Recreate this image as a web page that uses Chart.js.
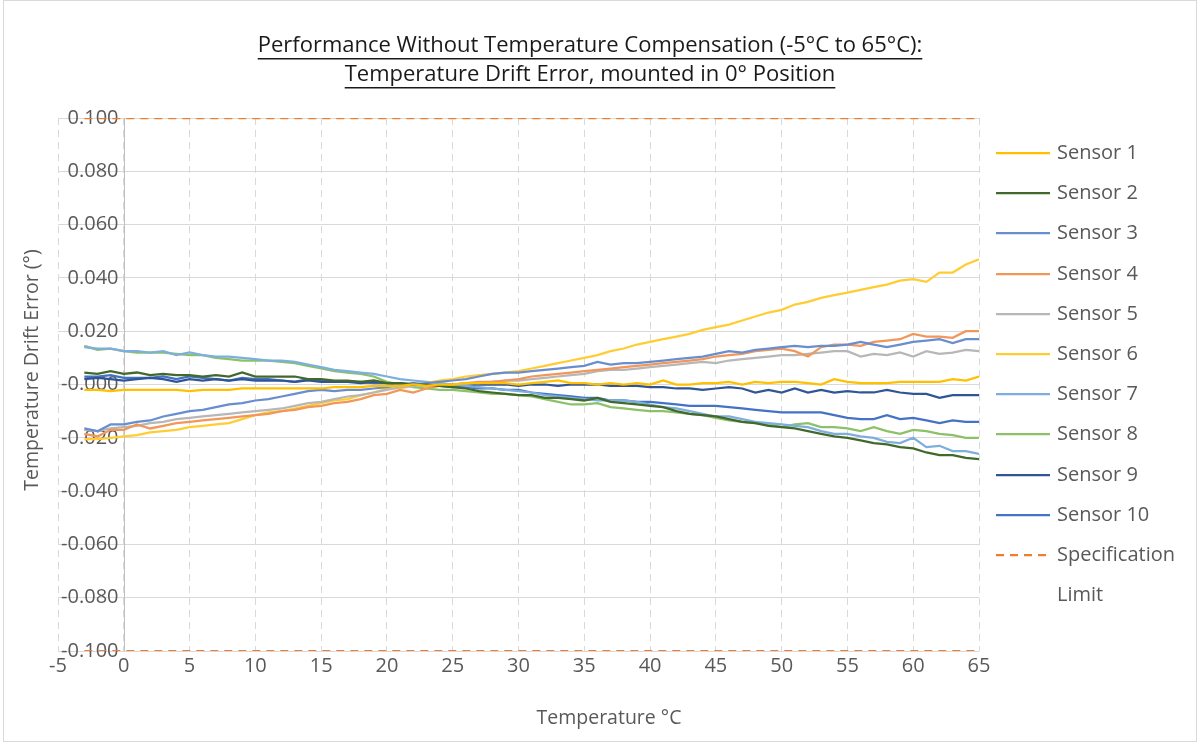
<!DOCTYPE html>
<html>
<head>
<meta charset="utf-8">
<script src="https://cdn.jsdelivr.net/npm/chart.js@4.4.1/dist/chart.umd.min.js"></script>
<style>
  html, body { margin: 0; padding: 0; background: #ffffff; }
  #wrap { width: 1200px; height: 742px; position: relative; }
</style>
</head>
<body>
<div id="wrap"><canvas id="chartArea" width="1200" height="742"></canvas></div>
<script>
'use strict'

// temperature steps (°C)
const temps = [-3, -2, -1, 0, 1, 2, 3, 4, 5, 6, 7, 8,
    9, 10, 11, 12, 13, 14, 15, 16, 17, 18, 19, 20,
    21, 22, 23, 24, 25, 26, 27, 28, 29, 30, 31, 32,
    33, 34, 35, 36, 37, 38, 39, 40, 41, 42, 43, 44,
    45, 46, 47, 48, 49, 50, 51, 52, 53, 54, 55, 56,
    57, 58, 59, 60, 61, 62, 63, 64, 65];

// drift error per sensor, in thousandths of a degree
const sensor1 = [-2, -2, -2.5, -2, -2, -2, -2, -2, -2.5, -2, -2, -2,
    -1.5, -1.5, -1.5, -1.5, -1.5, -1.5, -1.5, -1, -1, -1, -0.5, -0.5,
    -0.5, 0, -0.5, 0, 0, 0.5, 0.5, 0.5, 0.5, 0, 0.5, 1,
    1.5, 0.5, 0.5, 0, 0.5, 0, 0.5, 0, 1.5, 0, 0, 0.5,
    0.5, 1, 0, 1, 0.5, 1, 1, 0.5, 0, 2, 1, 0.5,
    0.5, 0.5, 1, 1, 1, 1, 2, 1.5, 3];
const sensor2 = [4.5, 4, 5, 4, 4.5, 3.5, 4, 3.5, 3.5, 3, 3.5, 3,
    4.5, 3, 3, 3, 3, 2, 2, 1.5, 1.5, 1, 1.5, 0.5,
    0.5, 0, 0, -0.5, -1, -1.5, -2.5, -3, -3.5, -4, -4, -5,
    -5, -5.5, -6, -5, -6.5, -7, -7.5, -8, -8.5, -10, -11, -11.5,
    -12, -13, -14, -14.5, -15.5, -16, -16.5, -17.5, -18.5, -19.5, -20, -21,
    -22, -22.5, -23.5, -24, -25.5, -26.5, -26.5, -27.5, -28];
const sensor3 = [-16.5, -17.5, -15, -15, -14, -13.5, -12, -11, -10, -9.5, -8.5, -7.5,
    -7, -6, -5.5, -4.5, -3.5, -2.5, -2, -2.5, -2, -2, -1.5, -1,
    0, 0, 0.5, 1, 1.5, 2, 3, 4, 4.5, 4.5, 5, 5.5,
    6, 6.5, 7, 8.5, 7.5, 8, 8, 8.5, 9, 9.5, 10, 10.5,
    11.5, 12.5, 12, 13, 13.5, 14, 14.5, 14, 14.5, 14.5, 15, 16,
    15, 14, 15, 16, 16.5, 17, 15.5, 17, 17];
const sensor4 = [-18.5, -19.5, -17, -17, -15, -16.5, -15.5, -14.5, -14, -13.5, -13, -12.5,
    -12, -11.5, -11, -10, -9.5, -8.5, -8, -7, -6.5, -5.5, -4, -3.5,
    -2, -3, -1.5, -0.5, 0, 0.5, 1, 1, 1.5, 2, 3, 3.5,
    4, 4.5, 5, 5.5, 6, 6.5, 7, 7.5, 8, 8.5, 9, 9.5,
    10.5, 11, 11.5, 12.5, 13, 13.5, 12.5, 10.5, 14, 15, 15, 14.5,
    16, 16.5, 17, 19, 18, 18, 17.5, 20, 20];
const sensor5 = [-17, -17.5, -16.5, -16, -15.5, -14.5, -14, -13, -12.5, -12, -11.5, -11,
    -10.5, -10, -9.5, -9, -8, -7, -6.5, -5.5, -4.5, -4, -3, -2,
    -1, -0.5, -0.5, -0.5, 0, 0.5, 0.5, 1, 1.5, 1.5, 2, 2.5,
    3, 3.5, 4, 5, 5.5, 5.5, 6, 6.5, 7, 7.5, 8, 8.5,
    8, 9, 9.5, 10, 10.5, 11, 11, 11.5, 12, 12.5, 12.5, 10.5,
    11.5, 11, 12, 10.5, 12.5, 11.5, 12, 13, 12.5];
const sensor6 = [-20.5, -20.5, -20, -19.5, -19, -18, -17.5, -17, -16, -15.5, -15, -14.5,
    -13, -11.5, -10.5, -10, -9, -8, -7, -6, -5.5, -4, -3, -1.5,
    -1.5, -0.5, 0.5, 1.5, 2, 3, 3.5, 4, 4.5, 5, 6, 7,
    8, 9, 10, 11, 12.5, 13.5, 15, 16, 17, 18, 19, 20.5,
    21.5, 22.5, 24, 25.5, 27, 28, 30, 31, 32.5, 33.5, 34.5, 35.5,
    36.5, 37.5, 39, 39.5, 38.5, 42, 42, 45, 47];
const sensor7 = [14, 13.5, 13.5, 12.5, 12.5, 12, 12.5, 11, 12, 11, 10.5, 10.5,
    10, 9.5, 9, 9, 8.5, 7.5, 6.5, 5.5, 5, 4.5, 4, 3,
    2, 1.5, 1, 0.5, 0, -0.5, -1, -1.5, -2, -2.5, -3, -4,
    -4.5, -5, -5.5, -6, -6, -6, -6.5, -7.5, -8.5, -9, -10, -11,
    -12, -12, -13, -14, -14.5, -15, -15.5, -16, -17.5, -18.5, -18.5, -19.5,
    -20, -21.5, -22, -20, -23.5, -23, -25, -25, -26];
const sensor8 = [14.5, 13, 13.5, 12.5, 12, 12, 12, 11.5, 11, 11, 10, 9.5,
    9, 9, 9, 8.5, 8, 7, 6, 5, 4.5, 4, 3, 1,
    0, -1, -1.5, -2, -2, -2.5, -3, -3.5, -3.5, -4, -4.5, -5.5,
    -6.5, -7.5, -7.5, -7, -8.5, -9, -9.5, -10, -10, -10.5, -11, -11.5,
    -12.5, -13.5, -14, -14.5, -15, -16, -15, -14.5, -16, -16, -16.5, -17.5,
    -16, -17.5, -18.5, -17, -17.5, -18.5, -19, -20, -20];
const sensor9 = [2, 2.5, 2, 1.5, 2, 2.5, 2, 1, 2, 1.5, 2, 1.5,
    2, 1.5, 1.5, 1.5, 1, 1.5, 1, 1, 1, 0.5, 1, 0.5,
    0.5, 0, 0, -0.5, 0, -0.5, 0, 0, 0, -0.5, 0, 0,
    -0.5, 0, 0, 0, -0.5, -0.5, -0.5, -1, -1, -1.5, -1.5, -2,
    -1.5, -1, -1.5, -3, -2, -3, -1.5, -3, -2, -3, -2.5, -3,
    -3, -2, -3, -3.5, -3.5, -5, -4, -4, -4];
const sensor10 = [3, 3, 3.5, 2.5, 2.5, 2.5, 3, 2, 3, 2.5, 2, 1.5,
    2.5, 2, 2, 1.5, 1, 2, 1.5, 1, 1, 1, 0.5, 0.5,
    0, 0.5, 0, -0.5, -1, -1, -1.5, -1.5, -2, -2, -3, -3.5,
    -4, -4.5, -5, -5, -6, -6, -6.5, -6.5, -7, -7.5, -8, -8,
    -8, -8.5, -9, -9.5, -10, -10.5, -10.5, -10.5, -10.5, -11.5, -12.5, -13,
    -13, -11.5, -13, -12.5, -13.5, -14.5, -13.5, -14, -14];

const sensorNames = ['Sensor 1', 'Sensor 2', 'Sensor 3', 'Sensor 4', 'Sensor 5',
    'Sensor 6', 'Sensor 7', 'Sensor 8', 'Sensor 9', 'Sensor 10'];
const sensorColors = ['#FFC000', '#43682B', '#698ED0', '#F1975A', '#B7B7B7',
    '#FFCD33', '#7CAFDD', '#8CC168', '#2F5597', '#4472C4'];

// specification limit (±0.1°)
const specTemps = [-3, 65];
const specUpper = [0.1, 0.1];
const specLower = [-0.1, -0.1];

const xTicks = [-5, 0, 5, 10, 15, 20, 25, 30, 35, 40, 45, 50, 55, 60, 65];
const yTicks = [0.1, 0.08, 0.06, 0.04, 0.02, 0, -0.02, -0.04, -0.06, -0.08, -0.1];
const yTickLabels = ['0.100', '0.080', '0.060', '0.040', '0.020', '-0.000',
    '-0.020', '-0.040', '-0.060', '-0.080', '-0.100'];

const titleLines = ['Performance Without Temperature Compensation (-5°C to 65°C):',
    'Temperature Drift Error, mounted in 0° Position'];
const xTitle = 'Temperature °C';
const yTitle = 'Temperature Drift Error (°)';

const FONT = '"Open Sans", "Noto Sans", sans-serif';
const sensorSeries = [sensor1, sensor2, sensor3, sensor4, sensor5,
    sensor6, sensor7, sensor8, sensor9, sensor10];

let datasets = [];
for (let k = 0; k < sensorSeries.length; k++) {
    datasets.push({
        label: sensorNames[k],
        data: temps.map((t, i) => ({x: t, y: sensorSeries[k][i] / 1000})),
        borderColor: sensorColors[k],
        borderWidth: 2.25,
        pointRadius: 0,
        tension: 0
    });
}
datasets.push({
    label: 'Specification Limit',
    data: specTemps.map((t, i) => ({x: t, y: specUpper[i]})),
    borderColor: '#ED7D31', borderWidth: 2.25, borderDash: [8, 6], pointRadius: 0
});
datasets.push({
    label: 'Specification Limit (lower)',
    data: specTemps.map((t, i) => ({x: t, y: specLower[i]})),
    borderColor: '#ED7D31', borderWidth: 2.25, borderDash: [8, 6], pointRadius: 0
});

const decor = {
    id: 'decor',
    beforeDatasetsDraw(chart) {
        const ctx = chart.ctx;
        const a = chart.chartArea;
        const x = chart.scales.x;
        const y = chart.scales.y;
        ctx.save();
        // vertical axis line at 0°C
        let px = Math.round(x.getPixelForValue(0)) + 0.5;
        ctx.strokeStyle = '#bfbfbf';
        ctx.lineWidth = 1;
        ctx.beginPath();
        ctx.moveTo(px, a.top);
        ctx.lineTo(px, a.bottom);
        ctx.stroke();
        // y tick labels, next to the axis at 0°C
        ctx.fillStyle = '#595959';
        ctx.font = '20px ' + FONT;
        ctx.textAlign = 'right';
        ctx.textBaseline = 'middle';
        for (let i = 0; i < yTicks.length; i++) {
            ctx.fillText(yTickLabels[i], px - 6, y.getPixelForValue(yTicks[i]));
        }
        ctx.restore();
    },
    afterDraw(chart) {
        const ctx = chart.ctx;
        const a = chart.chartArea;
        const x = chart.scales.x;
        ctx.save();
        // outer frame
        ctx.strokeStyle = '#d9d9d9';
        ctx.lineWidth = 1;
        ctx.strokeRect(3.5, 0.5, 1193, 741);

        // x tick labels
        ctx.fillStyle = '#595959';
        ctx.font = '20px ' + FONT;
        ctx.textAlign = 'center';
        ctx.textBaseline = 'middle';
        for (let i = 0; i < xTicks.length; i++) {
            ctx.fillText(String(xTicks[i]), x.getPixelForValue(xTicks[i]), a.bottom + 15);
        }

        // axis titles
        ctx.font = '19.5px ' + FONT;
        ctx.fillText(xTitle, 609, 718);
        ctx.save();
        ctx.translate(32, 370);
        ctx.rotate(-Math.PI / 2);
        ctx.fillText(yTitle, 0, 0);
        ctx.restore();

        // title, underlined
        ctx.fillStyle = '#1a1a1a';
        ctx.font = '22px ' + FONT;
        for (let i = 0; i < titleLines.length; i++) {
            let cy = 46 + i * 29;
            ctx.fillText(titleLines[i], 590, cy);
            let w = ctx.measureText(titleLines[i]).width;
            ctx.fillRect(590 - w / 2, cy + 12, w, 1.5);
        }

        // legend
        ctx.textAlign = 'left';
        ctx.font = '20px ' + FONT;
        const ds = chart.data.datasets;
        for (let i = 0; i < 11; i++) {
            let ly = Math.round(153 + i * 40.2);
            ctx.strokeStyle = ds[i].borderColor;
            ctx.lineWidth = 2.25;
            ctx.setLineDash(ds[i].borderDash || []);
            ctx.beginPath();
            ctx.moveTo(996, ly);
            ctx.lineTo(1050, ly);
            ctx.stroke();
            ctx.setLineDash([]);
            ctx.fillStyle = '#595959';
            if (i < 10) {
                ctx.fillText(ds[i].label, 1057, ly);
            } else {
                ctx.fillText('Specification', 1057, ly);
                ctx.fillText('Limit', 1057, Math.round(153 + 11 * 40.2));
            }
        }
        ctx.restore();
    }
};

let chart = new Chart(document.getElementById('chartArea').getContext('2d'), {
    type: 'line',
    data: {datasets: datasets},
    options: {
        responsive: false,
        animation: false,
        devicePixelRatio: 1,
        layout: {padding: {left: 58, right: 221, top: 118, bottom: 91}},
        plugins: {
            legend: {display: false},
            title: {display: false},
            tooltip: {enabled: false}
        },
        scales: {
            x: {
                type: 'linear', min: -5, max: 65,
                ticks: {display: false, stepSize: 5},
                grid: {color: '#d9d9d9', lineWidth: 1, drawTicks: false},
                border: {display: false, dash: [7, 5]}
            },
            y: {
                type: 'linear', min: -0.1, max: 0.1,
                ticks: {display: false, stepSize: 0.02},
                grid: {color: '#d9d9d9', lineWidth: 1, drawTicks: false},
                border: {display: false}
            }
        }
    },
    plugins: [decor]
});
</script>
</body>
</html>
